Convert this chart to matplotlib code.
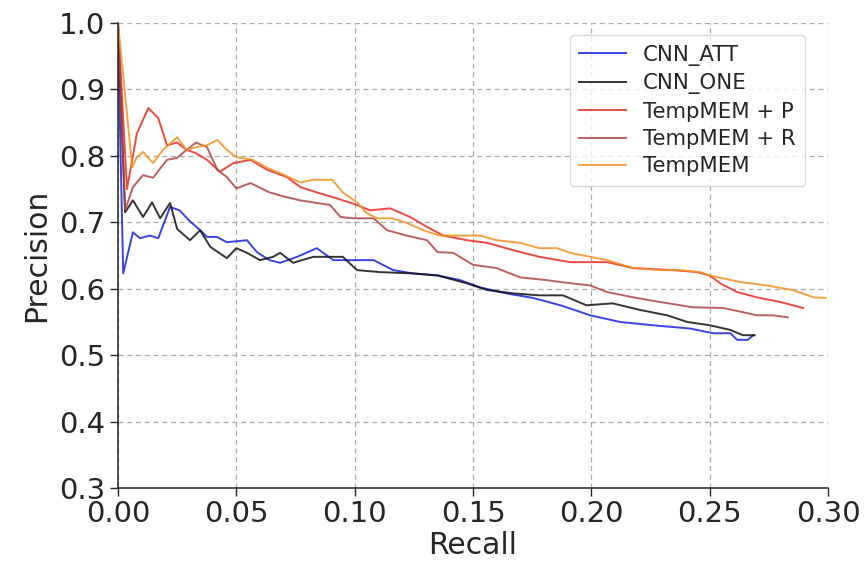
import matplotlib
matplotlib.use("Agg")
import matplotlib.pyplot as plt

labels = ["CNN_ATT", "CNN_ONE", "TempMEM + P", "TempMEM + R", "TempMEM"]

att_r = [0, 0.0022, 0.0063, 0.0093, 0.0135, 0.017, 0.022, 0.026, 0.030, 0.0347, 0.0376, 0.0418, 0.046,
         0.0545, 0.0587, 0.064, 0.0685, 0.0757, 0.084, 0.091, 0.098, 0.108, 0.1163, 0.1247, 0.135, 0.1445,
         0.153, 0.164, 0.1755, 0.187, 0.1995, 0.212, 0.226, 0.2418, 0.2515, 0.2587, 0.2616, 0.266, 0.2685]
att_p = [0.98, 0.623, 0.685, 0.676, 0.68, 0.676, 0.723, 0.718, 0.703, 0.688, 0.678, 0.678, 0.67,
         0.673, 0.655, 0.643, 0.639, 0.648, 0.661, 0.643, 0.643, 0.643, 0.628, 0.623, 0.62, 0.613,
         0.602, 0.593, 0.586, 0.575, 0.56, 0.55, 0.545, 0.54, 0.533, 0.533, 0.523, 0.523, 0.53]

one_r = [0, 0.003, 0.0063, 0.0106, 0.0144, 0.0178, 0.022, 0.025, 0.0304, 0.0347, 0.039, 0.046, 0.050,
         0.0545, 0.060, 0.0655, 0.0685, 0.074, 0.0825, 0.095, 0.101, 0.1107, 0.1247, 0.135, 0.1475, 0.156,
         0.167, 0.178, 0.188, 0.198, 0.209, 0.2206, 0.232, 0.2405, 0.250, 0.2587, 0.264, 0.269]
one_p = [1.0, 0.715, 0.733, 0.708, 0.73, 0.706, 0.729, 0.69, 0.673, 0.688, 0.663, 0.646, 0.661,
         0.654, 0.643, 0.648, 0.654, 0.639, 0.648, 0.648, 0.628, 0.625, 0.623, 0.62, 0.608, 0.598,
         0.593, 0.59, 0.59, 0.575, 0.578, 0.568, 0.56, 0.55, 0.545, 0.538, 0.53, 0.53]

memp_r = [0, 0.0038, 0.008, 0.0128, 0.017, 0.0207, 0.025, 0.029, 0.033, 0.0376, 0.043, 0.0487, 0.056,
          0.063, 0.0714, 0.077, 0.084, 0.0925, 0.101, 0.1065, 0.115, 0.1234, 0.1306, 0.1374, 0.1475,
          0.156, 0.167, 0.178, 0.191, 0.2067, 0.2177, 0.2346, 0.2447, 0.250, 0.2545, 0.2616, 0.270,
          0.2798, 0.2895]
memp_p = [1.0, 0.75, 0.834, 0.872, 0.857, 0.816, 0.82, 0.809, 0.804, 0.794, 0.776, 0.789, 0.794,
          0.779, 0.768, 0.753, 0.745, 0.736, 0.726, 0.718, 0.721, 0.708, 0.693, 0.68, 0.673,
          0.669, 0.658, 0.648, 0.64, 0.64, 0.631, 0.628, 0.625, 0.62, 0.608, 0.595, 0.587,
          0.58, 0.571]

memr_r = [0, 0.003, 0.0063, 0.0106, 0.0148, 0.0207, 0.025, 0.029, 0.033, 0.0376, 0.042, 0.046, 0.050,
          0.056, 0.064, 0.071, 0.077, 0.0896, 0.094, 0.0993, 0.108, 0.1137, 0.122, 0.1306, 0.135,
          0.1416, 0.150, 0.160, 0.170, 0.181, 0.187, 0.1995, 0.2067, 0.2177, 0.229, 0.243, 0.2557,
          0.270, 0.2768, 0.283]
memr_p = [1.0, 0.718, 0.753, 0.771, 0.767, 0.794, 0.797, 0.809, 0.82, 0.813, 0.779, 0.768, 0.751,
          0.759, 0.745, 0.738, 0.733, 0.726, 0.708, 0.706, 0.706, 0.688, 0.68, 0.673, 0.655,
          0.654, 0.636, 0.631, 0.617, 0.613, 0.61, 0.605, 0.595, 0.587, 0.58, 0.572, 0.571,
          0.56, 0.56, 0.557]

mem_r = [0, 0.006, 0.008, 0.0106, 0.0148, 0.019, 0.025, 0.029, 0.033, 0.0376, 0.042, 0.046, 0.050,
         0.057, 0.063, 0.0685, 0.077, 0.0825, 0.0905, 0.095, 0.101, 0.105, 0.1095, 0.116, 0.122, 0.129,
         0.136, 0.1445, 0.153, 0.160, 0.170, 0.178, 0.1855, 0.191, 0.1995, 0.2067, 0.2177, 0.229,
         0.2375, 0.246, 0.250, 0.263, 0.274, 0.285, 0.294, 0.299]
mem_p = [1.0, 0.783, 0.798, 0.806, 0.789, 0.809, 0.828, 0.809, 0.813, 0.816, 0.824, 0.809, 0.798,
         0.794, 0.782, 0.774, 0.76, 0.764, 0.764, 0.745, 0.73, 0.714, 0.706, 0.706, 0.699, 0.688,
         0.68, 0.68, 0.68, 0.673, 0.669, 0.661, 0.661, 0.654, 0.648, 0.643, 0.631, 0.628,
         0.628, 0.625, 0.62, 0.61, 0.605, 0.598, 0.587, 0.586]

xticks = [0.00, 0.05, 0.10, 0.15, 0.20, 0.25, 0.30]
yticks = [0.3, 0.4, 0.5, 0.6, 0.7, 0.8, 0.9, 1.0]

series = [(att_r, att_p, "#1a22e0"), (one_r, one_p, "#111111"), (memp_r, memp_p, "#ea2a22"),
          (memr_r, memr_p, "#b04444"), (mem_r, mem_p, "#f39220")]

txt = "#262626"
fig = plt.figure(figsize=(8.67, 5.71), dpi=100)
ax = fig.add_axes([118/867, 1-488/571, 710/867, 465/571])
for (r, p, c), lab in zip(series, labels):
    ax.plot(r, p, color=c, lw=1.4, alpha=0.85, label=lab)

ax.set_xlim(0, 0.30)
ax.set_ylim(0.3, 1.0)
ax.set_xticks(xticks)
ax.set_xticklabels([f"{v:.2f}" for v in xticks])
ax.set_yticks(yticks)
ax.set_yticklabels([f"{v:.1f}" for v in yticks])
ax.tick_params(labelsize=21, colors=txt, length=6, width=1, pad=3)
ax.set_xlabel("Recall", fontsize=21.5, color=txt, labelpad=2)
ax.set_ylabel("Precision", fontsize=21.5, color=txt, labelpad=6)
ax.grid(True, linestyle=(0, (4, 3)), color="#aaaaaa", lw=0.9)
ax.set_axisbelow(True)
for s in ["top", "right"]:
    ax.spines[s].set_visible(False)
for s in ["left", "bottom"]:
    ax.spines[s].set_color("#222222")
    ax.spines[s].set_linewidth(1.1)

leg = ax.legend(loc="upper right", bbox_to_anchor=(0.968, 0.974), borderaxespad=0,
                fontsize=15.3, frameon=True, handlelength=2.2, labelspacing=0.35,
                borderpad=0.45, handletextpad=0.8)
leg.get_frame().set_edgecolor("#cccccc")
for t in leg.get_texts():
    t.set_color(txt)

fig.savefig("out.png", dpi=100)
